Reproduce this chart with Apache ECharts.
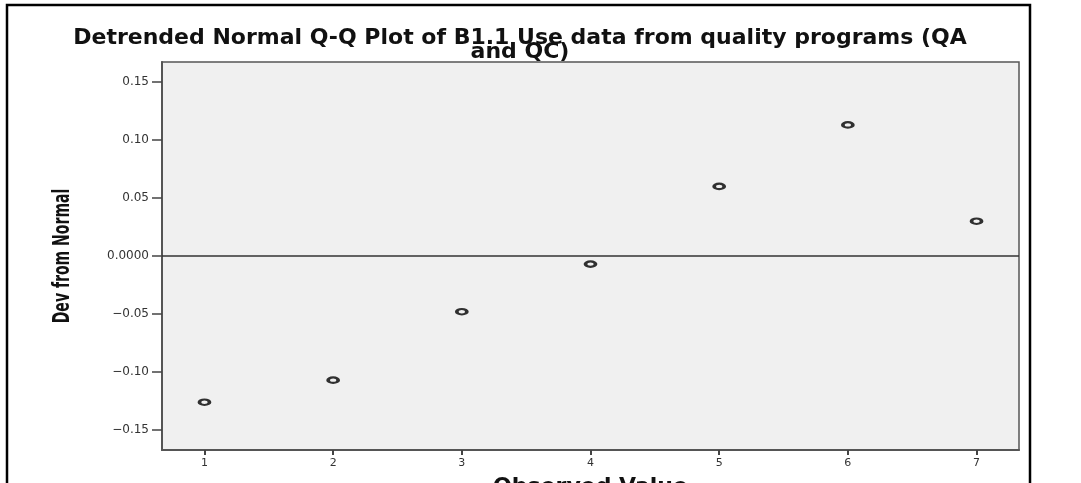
<!DOCTYPE html>
<html>
<head>
<meta charset="utf-8">
<title>Detrended Normal Q-Q Plot</title>
<script src="https://cdn.jsdelivr.net/npm/echarts@6/dist/echarts.min.js"></script>
<style>
  html, body { margin: 0; padding: 0; background: #fff; }
  #chart { width: 1081px; height: 483px; }
</style>
</head>
<body>
<div id="chart"></div>
<script>
// data
const observed = [1, 2, 3, 4, 5, 6, 7];
const devFromNormal = [-0.126, -0.107, -0.048, -0.007, 0.060, 0.113, 0.030];

// axis ticks and their labels
const xTicks = [1, 2, 3, 4, 5, 6, 7];
const yTicks = [-0.15, -0.10, -0.05, 0, 0.05, 0.10, 0.15];
const yTickLabels = ['\u22120.15', '\u22120.10', '\u22120.05', '0.0000', '0.05', '0.10', '0.15'];

const titleText = 'Detrended Normal Q-Q Plot of B1.1 Use data from quality programs (QA\nand QC)';
const yTitle = 'Dev from Normal';
const refValue = 0;

const chart = echarts.init(document.getElementById('chart'));

const axisColor = '#555';
const labelFont = 'DejaVu Sans';

const option = {
  animation: false,
  backgroundColor: '#fff',
  title: {
    text: titleText,
    left: 520,
    top: 31,
    textAlign: 'center',
    padding: 0,
    textStyle: {
      fontFamily: labelFont,
      fontWeight: 'bold',
      fontSize: 22,
      lineHeight: 14,
      color: '#111'
    }
  },
  graphic: [
    {
      // outer frame of the output viewer
      type: 'rect',
      silent: true,
      z: -10,
      shape: { x: 7, y: 5, width: 1023, height: 560 },
      style: { fill: 'none', stroke: '#000', lineWidth: 2.5 }
    },
    {
      // y title, condensed by scaling along the text
      type: 'text',
      silent: true,
      x: 63,
      y: 256,
      rotation: Math.PI / 2,
      scaleX: 0.61,
      style: {
        text: yTitle,
        fontFamily: labelFont,
        fontWeight: 'bold',
        fontSize: 23,
        fill: '#111',
        align: 'center',
        verticalAlign: 'middle'
      }
    }
  ],
  grid: {
    left: 162,
    top: 62,
    width: 857,
    height: 388,
    outerBoundsMode: 'none',
    containLabel: false,
    show: true,
    backgroundColor: '#f0f0f0',
    borderColor: axisColor,
    borderWidth: 1.5
  },
  xAxis: {
    type: 'value',
    min: 0.67,
    max: 7.33,
    name: 'Observed Value',
    nameLocation: 'middle',
    nameGap: 26,
    nameTextStyle: {
      fontFamily: labelFont,
      fontWeight: 'bold',
      fontSize: 22,
      color: '#111'
    },
    axisLine: { show: true, onZero: false, lineStyle: { color: axisColor, width: 2 } },
    axisTick: { show: true, length: 5, customValues: xTicks, lineStyle: { color: '#444', width: 2 } },
    axisLabel: {
      customValues: xTicks,
      fontFamily: labelFont,
      fontSize: 11,
      color: '#333',
      margin: 8
    },
    splitLine: { show: false }
  },
  yAxis: {
    type: 'value',
    min: -0.1672,
    max: 0.1672,
    axisLine: { show: true, onZero: false, lineStyle: { color: axisColor, width: 2 } },
    axisTick: { show: true, length: 10, customValues: yTicks, lineStyle: { color: '#444', width: 1.5 } },
    axisLabel: {
      customValues: yTicks,
      fontFamily: labelFont,
      fontSize: 12,
      color: '#333',
      margin: 13,
      formatter: function (v) {
        const i = yTicks.findIndex(t => Math.abs(t - v) < 1e-9);
        return i >= 0 ? yTickLabels[i] : '';
      }
    },
    splitLine: { show: false }
  },
  series: [
    {
      type: 'scatter',
      data: observed.map((x, i) => [x, devFromNormal[i]]),
      symbol: 'circle',
      symbolSize: [10, 5.5],
      itemStyle: { color: 'rgba(0,0,0,0)', borderColor: '#000', borderWidth: 2.8 },
      markLine: {
        silent: true,
        symbol: 'none',
        label: { show: false },
        lineStyle: { color: '#333', width: 1.5, type: 'solid' },
        data: [{ yAxis: refValue }]
      }
    }
  ]
};

chart.setOption(option);
</script>
</body>
</html>
